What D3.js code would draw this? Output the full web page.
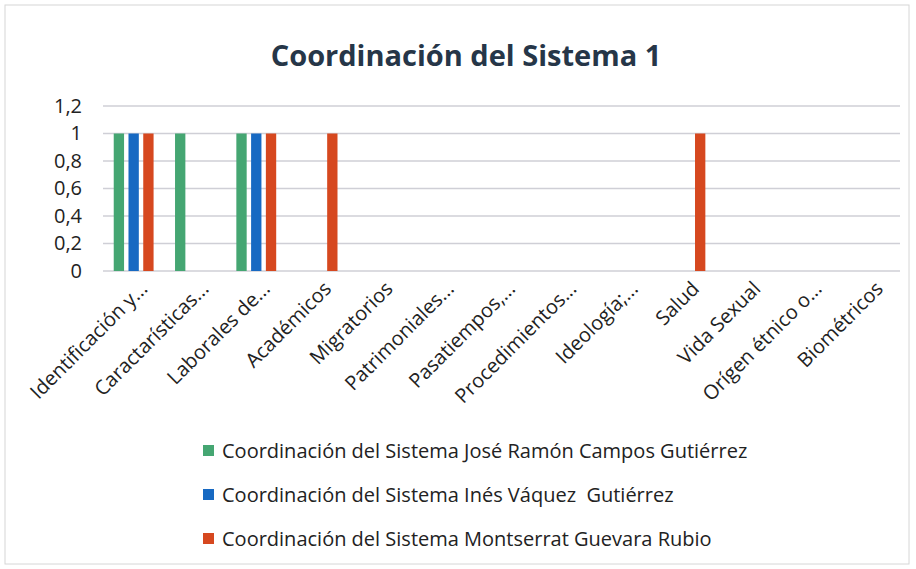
<!DOCTYPE html>
<html>
<head>
<meta charset="utf-8">
<script src="https://cdn.jsdelivr.net/npm/d3@7"></script>
<style>
  body { margin: 0; background: #fff; }
  text { font-family: "Open Sans", sans-serif; white-space: pre; }
</style>
</head>
<body>
<div id="chart"></div>
<script>
const categories = ["Identificación y...", "Caractarísticas...", "Laborales de...", "Académicos",
  "Migratorios", "Patrimoniales...", "Pasatiempos,...", "Procedimientos...", "Ideología;...",
  "Salud", "Vida Sexual", "Orígen étnico o...", "Biométricos"];
const seriesNames = ["Coordinación del Sistema José Ramón Campos Gutiérrez",
  "Coordinación del Sistema Inés Váquez  Gutiérrez",
  "Coordinación del Sistema Montserrat Guevara Rubio"];
const joseValues = [1, 1, 1, 0, 0, 0, 0, 0, 0, 0, 0, 0, 0];
const inesValues = [1, 0, 1, 0, 0, 0, 0, 0, 0, 0, 0, 0, 0];
const montseValues = [1, 0, 1, 1, 0, 0, 0, 0, 0, 1, 0, 0, 0];
const yTicks = [0, 0.2, 0.4, 0.6, 0.8, 1, 1.2];
const colors = ["#45a672", "#1769c2", "#d6481f"];

const width = 916, height = 569;
const margin = { top: 106, right: 16, bottom: 298, left: 103 };

const svg = d3.select("#chart").append("svg")
  .attr("width", width)
  .attr("height", height);

// faint frame of the scanned chart
svg.append("rect")
  .attr("x", 5).attr("y", 5)
  .attr("width", width - 12).attr("height", height - 10)
  .attr("fill", "none")
  .attr("stroke", "#d6d6d6")
  .attr("stroke-width", 1);

const series = seriesNames.map((name, i) => ({
  name, values: [joseValues, inesValues, montseValues][i]
}));

const x0 = d3.scaleBand()
  .domain(categories)
  .range([margin.left, width - margin.right])
  .paddingInner(0.35)
  .paddingOuter(0.175);

const x1 = d3.scaleBand()
  .domain(d3.range(series.length))
  .range([0, x0.bandwidth()])
  .paddingInner(0.3);

const y = d3.scaleLinear()
  .domain([0, 1.2])
  .range([height - margin.bottom, margin.top]);

// gridlines
svg.append("g")
  .selectAll("line")
  .data(yTicks)
  .join("line")
  .attr("x1", margin.left)
  .attr("x2", width - margin.right)
  .attr("y1", d => y(d))
  .attr("y2", d => y(d))
  .attr("stroke", "#cfcfd6")
  .attr("stroke-width", 1.5);

// y axis labels
const fmt = d => d3.format("")(d).replace(".", ",");
const yAxis = d3.axisLeft(y).tickValues(yTicks).tickFormat(fmt).tickSize(0).tickPadding(21);
const yg = svg.append("g")
  .attr("transform", `translate(${margin.left},0)`)
  .call(yAxis);
yg.select(".domain").remove();
yg.selectAll("text")
  .attr("font-size", 20)
  .attr("fill", "#222")
  .attr("font-family", "Open Sans, sans-serif");

// bars
const groups = svg.append("g")
  .selectAll("g")
  .data(categories)
  .join("g")
  .attr("transform", d => `translate(${x0(d)},0)`);

groups.selectAll("rect")
  .data((c, ci) => series.map((s, si) => ({ si, v: s.values[ci] })).filter(d => d.v > 0))
  .join("rect")
  .attr("x", d => x1(d.si))
  .attr("width", x1.bandwidth())
  .attr("y", d => y(d.v))
  .attr("height", d => y(0) - y(d.v))
  .attr("fill", d => colors[d.si]);

// x axis labels
const xAxis = d3.axisBottom(x0).tickSize(0).tickPadding(0);
const xg = svg.append("g")
  .attr("transform", `translate(0,${y(0)})`)
  .call(xAxis);
xg.select(".domain").remove();
xg.selectAll("text")
  .attr("font-size", 20)
  .attr("fill", "#222")
  .attr("font-family", "Open Sans, sans-serif")
  .attr("text-anchor", "end")
  .attr("dy", null)
  .attr("y", 0)
  .attr("transform", "translate(15,19) rotate(-45)");

// title
svg.append("text")
  .attr("x", 466)
  .attr("y", 66)
  .attr("text-anchor", "middle")
  .attr("font-size", 29)
  .attr("font-weight", "bold")
  .attr("fill", "#263648")
  .text("Coordinación del Sistema 1");

// legend
const legend = svg.append("g")
  .selectAll("g")
  .data(series)
  .join("g")
  .attr("transform", (d, i) => `translate(203,${451 + i * 44})`);

legend.append("rect")
  .attr("x", 0).attr("y", -6)
  .attr("width", 11).attr("height", 11)
  .attr("fill", (d, i) => colors[i]);

legend.append("text")
  .attr("x", 19)
  .attr("y", 0)
  .attr("dy", "0.35em")
  .attr("font-size", 20)
  .attr("fill", "#222")
  .text(d => d.name);
</script>
</body>
</html>
